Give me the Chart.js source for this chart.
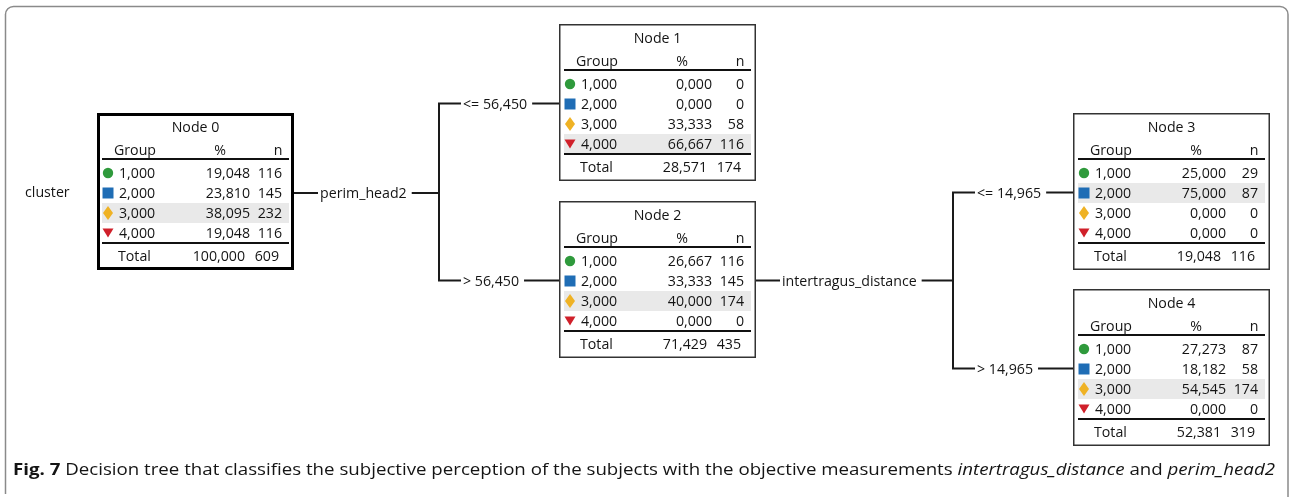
<!DOCTYPE html>
<html>
<head>
<meta charset="utf-8">
<script src="https://cdn.jsdelivr.net/npm/chart.js@4.4.1/dist/chart.umd.min.js"></script>
<style>
  html, body { margin: 0; padding: 0; background: #fff; }
  canvas { display: block; }
</style>
</head>
<body>
<canvas id="tree" width="1289" height="497"></canvas>
<script>
// target variable and its groups
const targetName = 'cluster';
const groups = ['1,000', '2,000', '3,000', '4,000'];
const nodeNames = ['Node 0', 'Node 1', 'Node 2', 'Node 3', 'Node 4'];

// % and n per group, one array per node
const pctNode0 = [19.048, 23.810, 38.095, 19.048];
const nNode0 = [116, 145, 232, 116];
const pctNode1 = [0, 0, 33.333, 66.667];
const nNode1 = [0, 0, 58, 116];
const pctNode2 = [26.667, 33.333, 40.000, 0];
const nNode2 = [116, 145, 174, 0];
const pctNode3 = [25.000, 75.000, 0, 0];
const nNode3 = [29, 87, 0, 0];
const pctNode4 = [27.273, 18.182, 54.545, 0];
const nNode4 = [87, 58, 174, 0];
const totalPct = [100, 28.571, 71.429, 19.048, 52.381];
const totalN = [609, 174, 435, 116, 319];

// splits
const splitVars = ['perim_head2', 'intertragus_distance'];
const splitLabels = [['<= 56,450', '> 56,450'], ['<= 14,965', '> 14,965']];

const pcts = [pctNode0, pctNode1, pctNode2, pctNode3, pctNode4];
const ns = [nNode0, nNode1, nNode2, nNode3, nNode4];

// ---- layout (pixels on the hidden linear scales) ----
const boxW = 197, boxH = 157;
const nodePos = [[97, 113], [559, 24], [559, 201], [1073, 113], [1073, 289]];
const splitX = [439, 953];
const rowOff = [60, 80, 100, 120];
const FONT = '"Open Sans", sans-serif';
const SIZE = 14.2;

const fmt = v => v.toFixed(3).replace('.', ',');

// marker images
function makeMarker(kind, color) {
  const c = document.createElement('canvas');
  c.width = 14; c.height = 16;
  const g = c.getContext('2d');
  g.fillStyle = color;
  g.beginPath();
  if (kind === 'circle') g.arc(7, 8, 5.2, 0, Math.PI * 2);
  else if (kind === 'square') g.rect(1.5, 2.5, 11, 11);
  else if (kind === 'diamond') { g.moveTo(7, 1); g.lineTo(12, 8); g.lineTo(7, 15); g.lineTo(2, 8); g.closePath(); }
  else { g.moveTo(1.5, 3.5); g.lineTo(12.5, 3.5); g.lineTo(7, 12.5); g.closePath(); }
  g.fill();
  return c;
}
const markerStyles = [
  makeMarker('circle', '#2f9a3c'),
  makeMarker('square', '#1f6db5'),
  makeMarker('diamond', '#efb224'),
  makeMarker('triangle', '#d0202a')
];

// connectors
const connectors = [];
const cy = i => nodePos[i][1] + 80;
connectors.push([[nodePos[0][0] + boxW, cy(0)], [splitX[0], cy(0)]]);
connectors.push([[nodePos[1][0], cy(1) - 0.5], [splitX[0], cy(1) - 0.5], [splitX[0], cy(2) - 0.5], [nodePos[2][0], cy(2) - 0.5]]);
connectors.push([[nodePos[2][0] + boxW, cy(2) - 0.5], [splitX[1], cy(2) - 0.5]]);
connectors.push([[nodePos[3][0], cy(3) - 0.5], [splitX[1], cy(3) - 0.5], [splitX[1], cy(4) - 0.5], [nodePos[4][0], cy(4) - 0.5]]);

const datasets = connectors.map(pts => ({
  type: 'line',
  data: pts.map(p => ({x: p[0], y: p[1]})),
  borderColor: '#1a1a1a',
  borderWidth: 2,
  pointRadius: 0,
  tension: 0,
  fill: false
}));

groups.forEach((g, gi) => {
  datasets.push({
    type: 'scatter',
    data: nodePos.map(p => ({x: p[0] + 11, y: p[1] + rowOff[gi]})),
    pointStyle: markerStyles[gi],
    pointRadius: 6
  });
});

const treePlugin = {
  id: 'tree',
  beforeDatasetsDraw(chart) {
    const ctx = chart.ctx, sx = chart.scales.x, sy = chart.scales.y;
    const X = v => sx.getPixelForValue(v), Y = v => sy.getPixelForValue(v);
    ctx.save();
    // outer frame
    ctx.strokeStyle = '#8a8a8a';
    ctx.lineWidth = 1.5;
    ctx.beginPath();
    ctx.moveTo(X(5.5), Y(494));
    ctx.lineTo(X(5.5), Y(14));
    ctx.arcTo(X(5.5), Y(6.5), X(14), Y(6.5), 8);
    ctx.lineTo(X(1280), Y(6.5));
    ctx.arcTo(X(1288), Y(6.5), X(1288), Y(14), 8);
    ctx.lineTo(X(1288), Y(497));
    ctx.stroke();

    nodePos.forEach((p, i) => {
      const x = X(p[0]), y = Y(p[1]);
      const best = ns[i].indexOf(Math.max(...ns[i]));
      ctx.fillStyle = '#e9e9e9';
      ctx.fillRect(x + 5, y + rowOff[best] - 10, boxW - 10, 20);
      // box
      ctx.strokeStyle = i === 0 ? '#000' : '#333';
      ctx.lineWidth = i === 0 ? 3 : 1.5;
      const o = ctx.lineWidth / 2;
      ctx.strokeRect(x + o, y + o, boxW - 2 * o, boxH - 2 * o);
      // rules
      ctx.strokeStyle = '#111';
      ctx.lineWidth = 2;
      ctx.beginPath();
      ctx.moveTo(x + 5, y + 46); ctx.lineTo(x + boxW - 5, y + 46);
      ctx.moveTo(x + 5, y + 130); ctx.lineTo(x + boxW - 5, y + 130);
      ctx.stroke();
    });
    ctx.restore();
  },
  afterDatasetsDraw(chart) {
    const ctx = chart.ctx, sx = chart.scales.x, sy = chart.scales.y;
    const X = v => sx.getPixelForValue(v), Y = v => sy.getPixelForValue(v);
    ctx.save();
    ctx.fillStyle = '#141414';
    ctx.textBaseline = 'middle';
    ctx.font = SIZE + 'px ' + FONT;

    // text sits 1px lower than the row centre
    const txt = (s, x, y, align) => { ctx.textAlign = align; ctx.fillText(s, x, y + 1); };

    nodePos.forEach((p, i) => {
      const x = X(p[0]), y = Y(p[1]);
      ctx.fillStyle = '#141414';
      txt(nodeNames[i], x + boxW / 2, y + 14, 'center');
      txt('Group', x + 17, y + 37, 'left');
      txt('%', x + boxW - 74, y + 37, 'center');
      txt('n', x + boxW - 16, y + 37, 'center');
      groups.forEach((g, gi) => {
        txt(g, x + 22, y + rowOff[gi], 'left');
        txt(fmt(pcts[i][gi]), x + boxW - 44, y + rowOff[gi], 'right');
        txt(String(ns[i][gi]), x + boxW - 12, y + rowOff[gi], 'right');
      });
      txt('Total', x + 21, y + 143, 'left');
      txt(fmt(totalPct[i]), x + boxW - 49, y + 143, 'right');
      txt(String(totalN[i]), x + boxW - 15, y + 143, 'right');
    });

    // labels sitting on the connectors
    const onLine = (s, x, y) => {
      const w = ctx.measureText(s).width;
      ctx.fillStyle = '#fff';
      ctx.fillRect(x - 2, y - 6, w + 7, 12);
      ctx.fillStyle = '#141414';
      txt(s, x, y, 'left');
    };
    onLine(splitVars[0], X(nodePos[0][0] + boxW + 26), Y(cy(0)));
    onLine(splitVars[1], X(nodePos[2][0] + boxW + 26), Y(cy(2) - 0.5));
    onLine(splitLabels[0][0], X(splitX[0] + 24), Y(cy(1) - 0.5));
    onLine(splitLabels[0][1], X(splitX[0] + 24), Y(cy(2) - 0.5));
    onLine(splitLabels[1][0], X(splitX[1] + 24), Y(cy(3) - 0.5));
    onLine(splitLabels[1][1], X(splitX[1] + 24), Y(cy(4) - 0.5));

    txt(targetName, X(25), Y(192), 'left');

    // caption
    const CS = '16px ';
    const parts = [
      ['bold ' + CS + FONT, 'Fig. 7'],
      [CS + FONT, ' Decision tree that classifies the subjective perception of the subjects with the objective measurements '],
      ['italic ' + CS + FONT, 'intertragus_distance'],
      [CS + FONT, ' and '],
      ['italic ' + CS + FONT, 'perim_head2']
    ];
    let total = 0;
    parts.forEach(pt => { ctx.font = pt[0]; total += ctx.measureText(pt[1]).width; });
    const f = (1275 - 13) / total;
    ctx.translate(X(13), Y(470));
    ctx.scale(f, 1);
    let cx = 0;
    ctx.textAlign = 'left';
    parts.forEach(pt => { ctx.font = pt[0]; ctx.fillText(pt[1], cx, 0); cx += ctx.measureText(pt[1]).width; });
    ctx.restore();
  }
};

new Chart(document.getElementById('tree'), {
  type: 'scatter',
  data: { datasets: datasets },
  options: {
    responsive: false,
    animation: false,
    events: [],
    layout: { padding: 0, autoPadding: false },
    scales: {
      x: { type: 'linear', min: 0, max: 1289, display: false },
      y: { type: 'linear', min: 0, max: 497, reverse: true, display: false }
    },
    plugins: { legend: { display: false }, tooltip: { enabled: false } }
  },
  plugins: [treePlugin]
});
</script>
</body>
</html>
